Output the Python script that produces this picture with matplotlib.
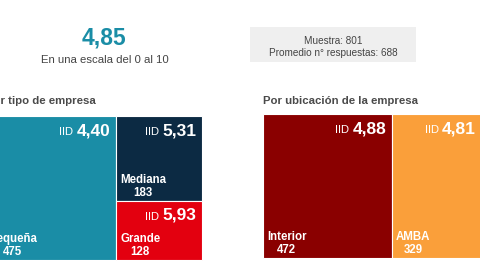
import matplotlib
matplotlib.use("Agg")
import matplotlib.pyplot as plt
from matplotlib.patches import Rectangle

plt.rcParams['font.family'] = ['Liberation Sans', 'DejaVu Sans']

# Data
overall_value = "4,85"
overall_sub = "En una escala del 0 al 10"
sample_text = ["Muestra: 801", "Promedio n° respuestas: 688"]

tipo_title = "Por tipo de empresa"
tipo_names = ["Pequeña", "Mediana", "Grande"]
tipo_counts = [475, 183, 128]
tipo_iid = ["4,40", "5,31", "5,93"]
tipo_colors = ["#1a8da6", "#0c2a43", "#e3000f"]

ubic_title = "Por ubicación de la empresa"
ubic_names = ["Interior", "AMBA"]
ubic_counts = [472, 329]
ubic_iid = ["4,88", "4,81"]
ubic_colors = ["#8a0000", "#fa9f3a"]

W, H = 480, 270
fig = plt.figure(figsize=(4.8, 2.7), dpi=100)
ax = fig.add_axes([0, 0, 1, 1])
ax.set_xlim(0, W)
ax.set_ylim(H, 0)
ax.axis('off')
renderer = fig.canvas.get_renderer()


def label_block(x, y, w, h, name, count, iid):
    # IID label top right
    t = ax.text(x + w - 6, y + 19, iid, ha='right', va='baseline',
                fontsize=12.5, fontweight='bold', color='white')
    bb = t.get_window_extent(renderer)
    left_px = bb.x0
    inv = ax.transData.inverted()
    lx = inv.transform((left_px, 0))[0]
    ax.text(lx - 3, y + 19, "IID", ha='right', va='baseline',
            fontsize=8, color='white')
    ax.text(x + 4, y + h - 5, f"{name}\n{count}", ha='left', va='baseline',
            multialignment='center', fontsize=8.3, fontweight='bold',
            color='white', linespacing=1.1)


def rect(x, y, w, h, color):
    ax.add_patch(Rectangle((x, y), w, h, facecolor=color, edgecolor='white', linewidth=0.8))


# Left treemap: first item full height, others stacked in a column
lx0, lx1, ly0, ly1 = -15, 202, 116, 260
tot = sum(tipo_counts)
w0 = (lx1 - lx0) * tipo_counts[0] / tot
rect(lx0, ly0, w0, ly1 - ly0, tipo_colors[0])
label_block(lx0, ly0, w0, ly1 - ly0, tipo_names[0], tipo_counts[0], tipo_iid[0])
rest = sum(tipo_counts[1:])
cy = ly0
for n, c, v, col in zip(tipo_names[1:], tipo_counts[1:], tipo_iid[1:], tipo_colors[1:]):
    hh = (ly1 - ly0) * c / rest
    rect(lx0 + w0, cy, lx1 - lx0 - w0, hh, col)
    label_block(lx0 + w0, cy, lx1 - lx0 - w0, hh, n, c, v)
    cy += hh

# Right treemap: side by side
rx0, rx1, ry0, ry1 = 263, 482, 114, 258
tot2 = sum(ubic_counts)
cx = rx0
for n, c, v, col in zip(ubic_names, ubic_counts, ubic_iid, ubic_colors):
    ww = (rx1 - rx0) * c / tot2
    rect(cx, ry0, ww, ry1 - ry0, col)
    label_block(cx, ry0, ww, ry1 - ry0, n, c, v)
    cx += ww

# Titles
ax.text(lx0 + 1, 104, tipo_title, ha='left', va='baseline', fontsize=8.2,
        fontweight='bold', color='#4a4a4a')
ax.text(rx0, 104, ubic_title, ha='left', va='baseline', fontsize=8.2,
        fontweight='bold', color='#4a4a4a')

# Header
ax.text(104, 45, overall_value, ha='center', va='baseline', fontsize=16.5,
        fontweight='bold', color='#1a8da6')
ax.text(104.5, 63, overall_sub, ha='center', va='baseline', fontsize=8.2,
        color='#444444')

ax.add_patch(Rectangle((250, 27), 166, 35, facecolor='#efefef', edgecolor='none'))
ax.text(333, 44, sample_text[0], ha='center', va='baseline', fontsize=7.2, color='#444444')
ax.text(333, 56, sample_text[1], ha='center', va='baseline', fontsize=7.2, color='#444444')

fig.savefig("out.png", dpi=100, facecolor='white')
